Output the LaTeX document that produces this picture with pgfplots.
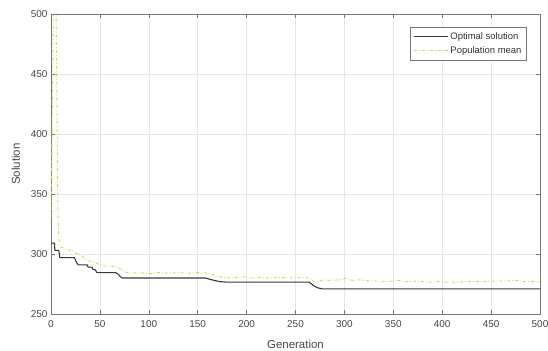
\documentclass[border=0pt]{standalone}
\usepackage{fontspec}
\setmainfont{Liberation Sans}
\usepackage{pgfplots}
\pgfplotsset{compat=1.18}
\definecolor{optc}{RGB}{55,55,55}
\definecolor{meanc}{RGB}{205,220,70}
\definecolor{gridc}{RGB}{230,230,230}
\definecolor{axc}{RGB}{120,120,120}
\definecolor{txtc}{RGB}{70,70,70}
\begin{document}
\begin{tikzpicture}
\begin{axis}[
  width=489bp, height=300bp, scale only axis,
  xmin=0, xmax=500, ymin=250, ymax=500,
  xtick={0,50,...,500}, ytick={250,300,...,500},
  grid=major, major grid style={gridc, line width=0.6pt},
  axis line style={axc, line width=0.8pt},
  tick style={axc, line width=0.6pt},
  tick align=inside, major tick length=4bp,
  xtick pos=both, ytick pos=both,
  tick label style={font=\fontsize{10}{11}\selectfont, text=txtc},
  xticklabel style={yshift=-3bp},
  /pgf/number format/assume math mode=true,
  /pgf/number format/1000 sep={},
  xlabel={Generation}, ylabel={Solution},
  label style={font=\fontsize{11.5}{12}\selectfont, text=txtc},
  xlabel style={yshift=-6bp},
  ylabel style={yshift=4bp},
  legend style={at={(0.973,0.957)}, anchor=north east, font=\fontsize{9.5}{10.5}\selectfont,
    draw=axc, line width=0.6pt, inner sep=3pt, row sep=2pt, text=black!80},
  legend cell align=left,
  legend image code/.code={\draw[#1] (0bp,0bp) -- (34bp,0bp);},
]
\addplot[optc, line width=1.1pt] coordinates {
(0,309) (3.5,309) (4,303) (8,303) (9,297) (24,297) (26,293) (28,291) (37,291) (38,289) (42,289) (43,287) (45,287) (47,284.5) (66,284.5) (69,283) (71,281) (73,280) (158,280) (162,279) (167,278) (172,277) (180,276.5) (264,276.5) (268,274) (272,272) (277,271) (500,271)
};
\addlegendentry{Optimal solution}
\addplot[meanc, line width=0.9pt, dashdotted] coordinates {
(0,330) (1,395) (2,470) (3,545) (4,600) (5,520) (6,430) (7,340) (8,313) (10,306) (15,304) (20,303) (25,301) (30,299) (35,296) (40,294) (45,293) (50,291) (55,290) (60,290) (65,289.5) (70,288) (75,285.5) (80,284) (90,284.5) (100,283.5) (110,284.5) (120,284) (130,284.5) (140,284) (150,284.5) (160,284) (165,283) (170,281.5) (175,280.5) (185,280) (195,281) (205,280) (215,280.5) (225,280) (235,280.5) (245,280) (255,280.5) (264,280) (268,277.5) (272,276.5) (278,278.5) (285,278) (295,278.5) (302,279.8) (308,278) (315,278.5) (325,277.5) (335,277.5) (345,277) (355,278) (365,277) (375,277.5) (385,276.5) (395,277) (405,276.5) (415,276.5) (425,277) (435,277) (445,277) (455,277.5) (465,277.5) (475,278) (485,277) (500,277)
};
\addlegendentry{Population mean}
\end{axis}
\pgfresetboundingbox
\path[use as bounding box] ([shift={(-51bp,-37bp)}]current axis.south west) rectangle ([shift={(8bp,14bp)}]current axis.north east);
\end{tikzpicture}
\end{document}
